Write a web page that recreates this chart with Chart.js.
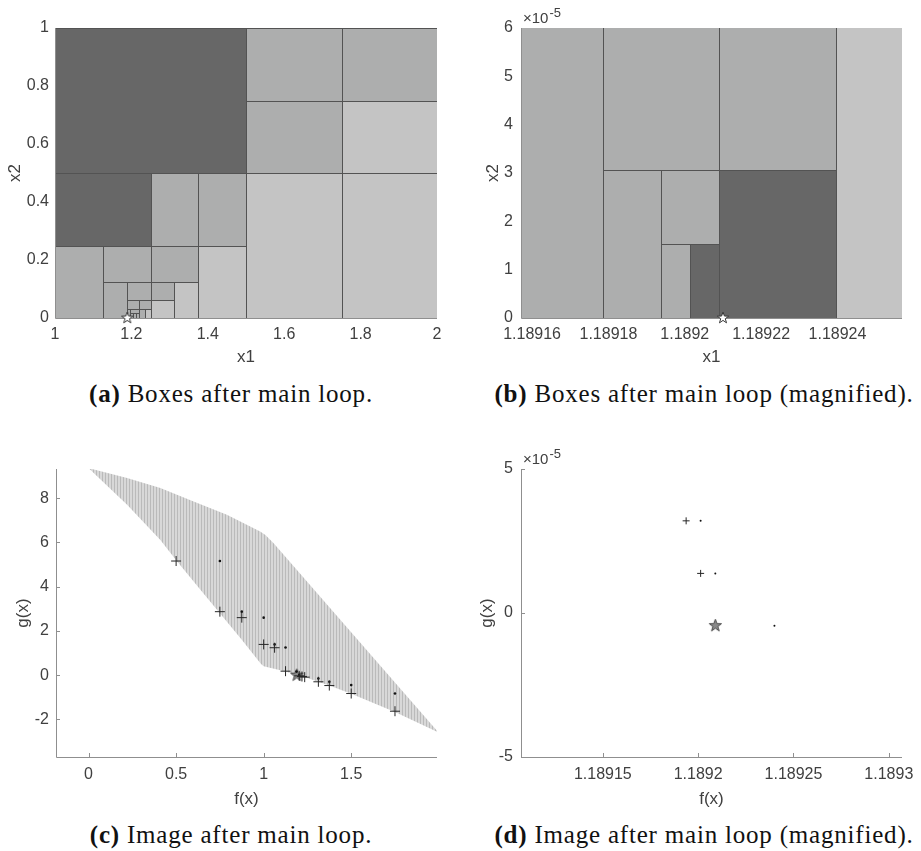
<!DOCTYPE html>
<html>
<head>
<meta charset="utf-8">
<script src="https://cdn.jsdelivr.net/npm/chart.js@4.4.1/dist/chart.umd.min.js"></script>
<style>
  body { margin: 0; background: #fff; }
  #fig { position: relative; width: 921px; height: 851px; overflow: hidden; }
  canvas { position: absolute; }
  .cap {
    position: absolute; width: 460px; text-align: center;
    font-family: 'Liberation Serif', 'Times New Roman', serif;
    font-size: 25px; line-height: 25px; letter-spacing: 0.8px; color: #111;
    white-space: nowrap;
  }
</style>
</head>
<body>
<div id="fig">
  <canvas id="chartA" width="460" height="372" style="left:0;top:0"></canvas>
  <canvas id="chartB" width="461" height="372" style="left:460px;top:0"></canvas>
  <canvas id="chartC" width="460" height="392" style="left:0;top:425px"></canvas>
  <canvas id="chartD" width="461" height="392" style="left:460px;top:425px"></canvas>
  <div class="cap" style="left:1px;top:381px"><b>(a)</b> Boxes after main loop.</div>
  <div class="cap" style="left:474px;top:381px"><b>(b)</b> Boxes after main loop (magnified).</div>
  <div class="cap" style="left:1px;top:822px"><b>(c)</b> Image after main loop.</div>
  <div class="cap" style="left:474px;top:822px"><b>(d)</b> Image after main loop (magnified).</div>
</div>
<script>
// boxes in the (x1, x2) plane, panel (a); shade 0 = dark, 1 = medium, 2 = light
const boxAX0 = [1, 1.5, 1.75, 1.5, 1.75, 1.5, 1.75, 1, 1.25, 1.375, 1.375, 1, 1.125, 1.25, 1.125, 1.1875, 1.25, 1.3125, 1.25, 1.1875, 1.21875, 1.1875, 1.1953125, 1.1953125, 1.203125, 1.2109375, 1.21875, 1.234375];
const boxAX1 = [1.5, 1.75, 2, 1.75, 2, 1.75, 2, 1.25, 1.375, 1.5, 1.5, 1.125, 1.25, 1.375, 1.1875, 1.25, 1.3125, 1.375, 1.3125, 1.21875, 1.25, 1.1953125, 1.21875, 1.203125, 1.2109375, 1.21875, 1.234375, 1.25];
const boxAY0 = [0.5, 0.75, 0.75, 0.5, 0.5, 0, 0, 0.25, 0.25, 0.25, 0, 0, 0.125, 0.125, 0, 0.0625, 0.0625, 0, 0, 0.03125, 0.03125, 0, 0.015625, 0, 0, 0, 0, 0];
const boxAY1 = [1, 1, 1, 0.75, 0.75, 0.5, 0.5, 0.5, 0.5, 0.5, 0.25, 0.25, 0.25, 0.25, 0.125, 0.125, 0.125, 0.125, 0.0625, 0.0625, 0.0625, 0.03125, 0.03125, 0.015625, 0.015625, 0.015625, 0.03125, 0.03125];
const boxAShade = [0, 1, 1, 1, 2, 2, 2, 0, 1, 1, 2, 1, 1, 1, 1, 1, 1, 2, 2, 1, 1, 1, 1, 1, 1, 1, 1, 2];

// boxes near the optimum, panel (b)
const boxBX0 = [1.18914795, 1.18917847, 1.18920898, 1.18917847, 1.18919373, 1.18919373, 1.18920135, 1.18920898, 1.18923950];
const boxBX1 = [1.18917847, 1.18920898, 1.18923950, 1.18919373, 1.18920898, 1.18920135, 1.18920898, 1.18923950, 1.18927002];
const boxBY0 = [0, 3.05176e-5, 3.05176e-5, 0, 1.52588e-5, 0, 0, 0, 0];
const boxBY1 = [6.10352e-5, 6.10352e-5, 6.10352e-5, 3.05176e-5, 3.05176e-5, 1.52588e-5, 1.52588e-5, 3.05176e-5, 6.10352e-5];
const boxBShade = [1, 1, 1, 1, 1, 1, 0, 0, 2];

const starX1 = [1.18921];
const starX2 = [0];

// image of the search domain in (f, g), panel (c)
const regionF = [0.0, 0.22, 0.41, 0.6, 0.79, 0.98, 1.01, 1.057, 2.0, 1.75, 1.5, 1.375, 1.25, 1.125, 1.0, 0.985, 0.875, 0.75, 0.64, 0.505, 0.41, 0.22];
const regionG = [9.36, 8.91, 8.46, 7.85, 7.25, 6.49, 6.34, 5.96, -2.6, -1.66, -0.84, -0.47, -0.13, 0.17, 0.4, 0.5, 1.6, 2.8, 3.85, 5.15, 6.11, 7.7];

const plusCF = [0.5, 0.75, 0.875, 1.0, 1.0625, 1.125, 1.2031, 1.2188, 1.2344, 1.3125, 1.375, 1.5, 1.75];
const plusCG = [5.16, 2.87, 2.6, 1.39, 1.24, 0.18, -0.03, -0.06, -0.09, -0.30, -0.47, -0.83, -1.63];
const dotCF = [0.75, 0.875, 1.0, 1.0625, 1.125, 1.1875, 1.2031, 1.3125, 1.375, 1.5, 1.75];
const dotCG = [5.16, 2.87, 2.6, 1.39, 1.25, 0.16, 0.01, -0.15, -0.30, -0.45, -0.83];
const starCF = [1.1892];
const starCG = [0];

// panel (d), magnified
const plusDF = [1.1891937, 1.1892013];
const plusDG = [3.2e-5, 1.375e-5];
const dotDF = [1.1892013, 1.189209, 1.18924];
const dotDG = [3.2e-5, 1.375e-5, -0.44e-5];
const starDF = [1.189209];
const starDG = [-0.44e-5];

const SHADES = ['#676767', '#adaeae', '#c4c4c4'];
const FONT = "'Liberation Sans', Arial, sans-serif";
const TEXT = '#404040';
const AXIS = '#8f8f8f';

function pts(xs, ys) { return xs.map((v, i) => ({x: v, y: ys[i]})); }

function makeStar(r, fill, stroke) {
  const s = Math.ceil(2 * r + 4);
  const c = document.createElement('canvas');
  c.width = s; c.height = s;
  const g = c.getContext('2d');
  g.translate(s / 2, s / 2);
  g.beginPath();
  for (let k = 0; k < 10; k++) {
    const rr = k % 2 ? r * 0.4 : r;
    const a = -Math.PI / 2 + k * Math.PI / 5;
    g.lineTo(rr * Math.cos(a), rr * Math.sin(a));
  }
  g.closePath();
  g.fillStyle = fill; g.fill();
  g.strokeStyle = stroke; g.lineWidth = 1; g.stroke();
  return c;
}

function hatch(ctx) {
  const c = document.createElement('canvas');
  c.width = 3; c.height = 1;
  const g = c.getContext('2d');
  g.fillStyle = '#d8d8d8'; g.fillRect(0, 0, 3, 1);
  g.fillStyle = '#bababa'; g.fillRect(0, 0, 1, 1);
  return ctx.createPattern(c, 'repeat');
}

const decor = {
  id: 'decor',
  beforeDatasetsDraw(chart, args, o) {
    const {ctx, chartArea: a, scales: {x, y}} = chart;
    ctx.save();
    ctx.beginPath();
    ctx.rect(a.left, a.top, a.right - a.left, a.bottom - a.top);
    ctx.clip();
    if (o.boxes) {
      const b = o.boxes;
      ctx.lineWidth = 1;
      ctx.strokeStyle = '#535353';
      for (let i = 0; i < b.x0.length; i++) {
        const px0 = Math.round(x.getPixelForValue(b.x0[i])) + 0.5;
        const px1 = Math.round(x.getPixelForValue(b.x1[i])) + 0.5;
        const py0 = Math.round(y.getPixelForValue(b.y0[i])) + 0.5;
        const py1 = Math.round(y.getPixelForValue(b.y1[i])) + 0.5;
        ctx.fillStyle = SHADES[b.s[i]];
        ctx.fillRect(px0, py1, px1 - px0, py0 - py1);
        ctx.strokeRect(px0, py1, px1 - px0, py0 - py1);
      }
    }
    if (o.region) {
      ctx.beginPath();
      o.region.f.forEach((f, i) => ctx.lineTo(x.getPixelForValue(f), y.getPixelForValue(o.region.g[i])));
      ctx.closePath();
      ctx.fillStyle = hatch(ctx);
      ctx.fill();
    }
    ctx.restore();

    ctx.save();
    ctx.strokeStyle = AXIS;
    ctx.lineWidth = 1;
    ctx.beginPath();
    ctx.moveTo(a.left + 0.5, a.top);
    ctx.lineTo(a.left + 0.5, a.bottom + 0.5);
    ctx.lineTo(a.right, a.bottom + 0.5);
    if (o.tickMarks) {
      x.ticks.forEach(t => {
        const p = Math.round(x.getPixelForValue(t.value)) + 0.5;
        ctx.moveTo(p, a.bottom); ctx.lineTo(p, a.bottom - 4);
      });
      y.ticks.forEach(t => {
        const p = Math.round(y.getPixelForValue(t.value)) + 0.5;
        ctx.moveTo(a.left, p); ctx.lineTo(a.left + 4, p);
      });
    }
    ctx.stroke();
    if (o.exponent) {
      ctx.fillStyle = TEXT;
      ctx.textBaseline = 'alphabetic';
      ctx.font = '15px ' + FONT;
      ctx.fillText('\u00d710', a.left + 2, a.top - 5);
      const w = ctx.measureText('\u00d710').width;
      ctx.font = '13px ' + FONT;
      ctx.fillText('-5', a.left + 3 + w, a.top - 11);
    }
    ctx.restore();
  }
};

function fixSize(prop, val) {
  return scale => {
    scale[prop] = val;
    scale.paddingLeft = scale.paddingRight = scale.paddingTop = scale.paddingBottom = 0;
  };
}

function axisOpts(L, dir) {
  const ax = L[dir];
  const horiz = dir === 'x';
  return {
    type: 'linear',
    position: horiz ? 'bottom' : 'left',
    min: ax.min, max: ax.max,
    grid: {display: false, drawTicks: false},
    border: {display: false},
    ticks: {
      stepSize: ax.step, includeBounds: false, autoSkip: false, maxRotation: 0,
      padding: ax.pad, color: TEXT, font: {family: FONT, size: 16},
      callback: ax.fmt
    },
    title: {
      display: true, text: ax.title, color: TEXT, font: {family: FONT, size: 17},
      padding: horiz ? {top: 0, bottom: ax.tpad} : {top: ax.tpad, bottom: 0}
    },
    afterFit: horiz ? fixSize('height', L.xH) : fixSize('width', L.yW)
  };
}

const plain = v => String(parseFloat(Number(v).toFixed(6)));
const fine = v => String(parseFloat(Number(v).toFixed(5)));
const exp5 = v => String(Math.round(v * 1e5));

function makeChart(id, L, datasets, decorOpts) {
  return new Chart(document.getElementById(id), {
    type: 'scatter',
    data: {datasets},
    options: {
      responsive: false, animation: false, events: [],
      layout: {padding: {top: L.padTop, right: L.padRight, left: 0, bottom: 0}},
      plugins: {legend: {display: false}, tooltip: {enabled: false}, decor: decorOpts},
      scales: {x: axisOpts(L, 'x'), y: axisOpts(L, 'y')}
    },
    plugins: [decor]
  });
}

const whiteStar = makeStar(6, '#ffffff', '#3a3a3a');
const grayStar = makeStar(6.5, '#8a8a8a', '#4a4a4a');

function starSet(xs, ys, img) {
  return {data: pts(xs, ys), pointStyle: img, pointRadius: 6, clip: false, showLine: false};
}
function plusSet(xs, ys, r) {
  return {data: pts(xs, ys), pointStyle: 'cross', pointRadius: r, borderColor: '#262626', borderWidth: 1, showLine: false};
}
function dotSet(xs, ys, r) {
  return {data: pts(xs, ys), pointStyle: 'circle', pointRadius: r, backgroundColor: '#111', borderWidth: 0, showLine: false};
}

const LAYOUT_A = {yW: 55, xH: 54, padTop: 28, padRight: 23,
  x: {min: 1, max: 2, step: 0.2, pad: 7, fmt: plain, title: 'x1', tpad: 4},
  y: {min: 0, max: 1, step: 0.2, pad: 6, fmt: plain, title: 'x2', tpad: 5}};
const LAYOUT_B = {yW: 61, xH: 54, padTop: 28, padRight: 19,
  x: {min: 1.1891571, max: 1.1892569, step: 2e-5, pad: 7, fmt: fine, title: 'x1', tpad: 4},
  y: {min: 0, max: 6e-5, step: 1e-5, pad: 8, fmt: exp5, title: 'x2', tpad: 23}};
const LAYOUT_C = {yW: 56, xH: 60, padTop: 44, padRight: 23,
  x: {min: -0.186, max: 1.99, step: 0.5, pad: 8, fmt: plain, title: 'f(x)', tpad: 7},
  y: {min: -3.7, max: 9.32, step: 2, pad: 7, fmt: plain, title: 'g(x)', tpad: 13}};
const LAYOUT_D = {yW: 61, xH: 60, padTop: 44, padRight: 19,
  x: {min: 1.1891071, max: 1.1893069, step: 5e-5, pad: 8, fmt: fine, title: 'f(x)', tpad: 7},
  y: {min: -5e-5, max: 5e-5, step: 5e-5, pad: 8, fmt: exp5, title: 'g(x)', tpad: 17}};

makeChart('chartA', LAYOUT_A, [starSet(starX1, starX2, whiteStar)],
  {boxes: {x0: boxAX0, x1: boxAX1, y0: boxAY0, y1: boxAY1, s: boxAShade}});

makeChart('chartB', LAYOUT_B, [starSet(starX1, starX2, whiteStar)],
  {boxes: {x0: boxBX0, x1: boxBX1, y0: boxBY0, y1: boxBY1, s: boxBShade}, exponent: true});

makeChart('chartC', LAYOUT_C, [
  plusSet(plusCF, plusCG, 5),
  dotSet(dotCF, dotCG, 1.3),
  starSet(starCF, starCG, grayStar)
], {region: {f: regionF, g: regionG}, tickMarks: true});

makeChart('chartD', LAYOUT_D, [
  plusSet(plusDF, plusDG, 3.5),
  dotSet(dotDF, dotDG, 1),
  starSet(starDF, starDG, grayStar)
], {tickMarks: true, exponent: true});
</script>
</body>
</html>
